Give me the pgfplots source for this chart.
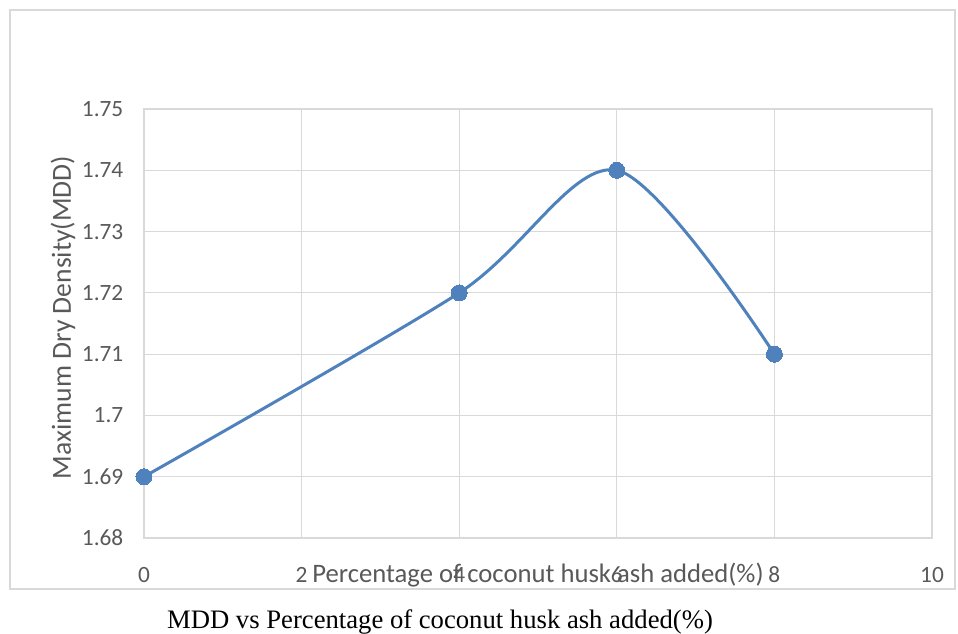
\documentclass[border=0pt]{standalone}
\usepackage{pgfplots}
\pgfplotsset{compat=1.18}
\usepackage{fontspec}
\setmainfont{Carlito}
\newfontfamily\capfont{Liberation Serif}
\definecolor{excelblue}{RGB}{79,129,189}
\definecolor{gridgray}{RGB}{217,217,217}
\definecolor{textgray}{RGB}{89,89,89}

\begin{document}
\begin{tikzpicture}
\begin{scope}[x=0.75pt,y=0.75pt]
\path[use as bounding box] (0,0) rectangle (958,634);
\draw[gridgray, line width=1.2pt] (10,45) rectangle (955,624);
\node[anchor=center, font=\capfont\fontsize{20}{24}\selectfont] at (440,12) {MDD vs Percentage of coconut husk ash added(\%)};
\end{scope}
\begin{axis}[
    at={(108pt,72pt)}, anchor=south west,
    scale only axis,
    width=591pt, height=321.75pt,
    xmin=0, xmax=10, ymin=1.68, ymax=1.75,
    xtick={0,2,...,10},
    ytick={1.68,1.69,1.70,1.71,1.72,1.73,1.74,1.75},
    grid=major,
    major grid style={gridgray, line width=0.9pt},
    axis line style={gridgray, line width=0.9pt},
    major tick length=0pt,
    tick label style={font=\fontsize{17.5}{21}\selectfont, text=textgray},
    /pgf/number format/assume math mode=true,
    /pgf/number format/.cd, fixed, precision=2, /pgfplots/.cd,
    xticklabel style={anchor=center, yshift=-27.75pt},
    yticklabel style={anchor=east, xshift=-12pt},
    xlabel={Percentage of coconut husk ash added(\%)},
    xlabel style={at={(axis description cs:0.5,0)}, anchor=center, yshift=-27.75pt,
        font=\fontsize{20}{24}\selectfont, text=textgray},
    ylabel={Maximum Dry Density(MDD)},
    ylabel style={at={(axis description cs:0,0.5)}, anchor=center, yshift=60.75pt, xshift=4.5pt,
        font=\fontsize{20.7}{25}\selectfont, text=textgray},
    clip=false,
]
\addplot[excelblue, line width=2.25pt, smooth, tension=0.5,
    mark=*, mark size=6pt, mark options={fill=excelblue, draw=excelblue, line width=0pt}]
    coordinates {(0,1.69) (4,1.72) (6,1.74) (8,1.71)};
\end{axis}
\end{tikzpicture}
\end{document}
